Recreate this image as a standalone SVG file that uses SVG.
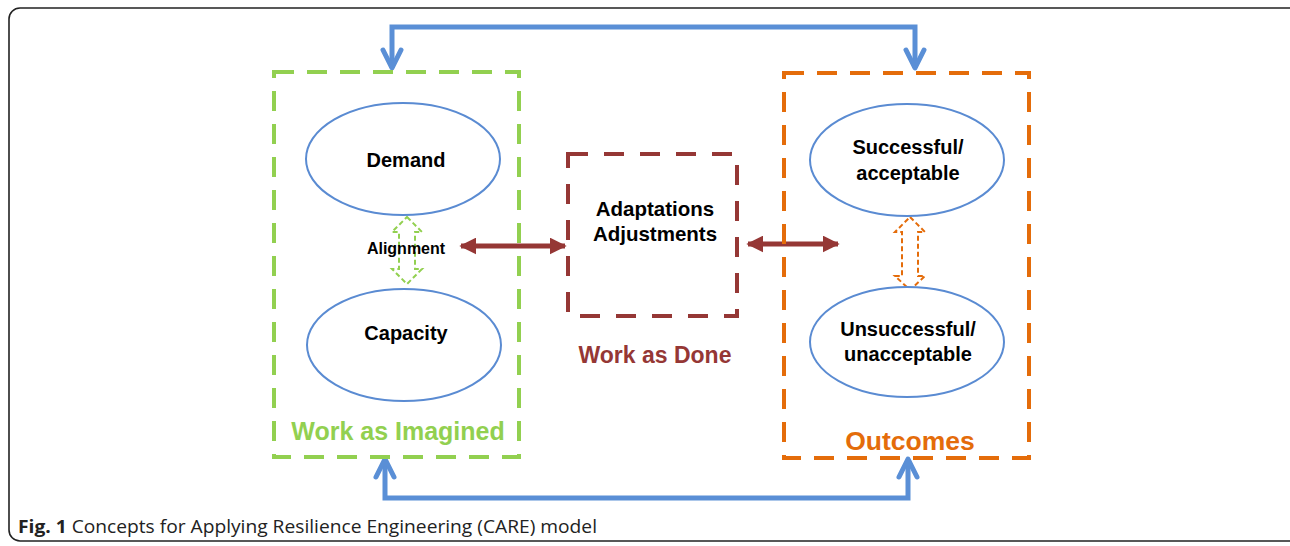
<svg xmlns="http://www.w3.org/2000/svg" width="1290" height="546" viewBox="0 0 1290 546">
<style>
.frame{fill:none;stroke:#222;stroke-width:1.6}
.ell{fill:#fff;stroke:#5a8bd2;stroke-width:2}
.lbl{font-family:"Liberation Sans",Arial,sans-serif;font-weight:bold;fill:#000;text-anchor:middle}
.blue{fill:none;stroke:#5a8fd6;stroke-width:5;stroke-linejoin:miter}
.bhead{fill:none;stroke:#5a8fd6;stroke-width:5;stroke-linecap:round;stroke-linejoin:round}
.red{stroke:#953735;stroke-width:5}
</style>
<defs>
<marker id="rh" viewBox="0 0 10 10" refX="9" refY="5" markerWidth="3.4" markerHeight="3.4" orient="auto-start-reverse" markerUnits="strokeWidth">
<path d="M0,0 L10,5 L0,10 Z" fill="#953735"/>
</marker>
</defs>
<rect class="frame" x="9" y="8" width="1300" height="533" rx="11"/>

<g id="connectors">
<polyline class="blue" points="392,68 392,27 915,27 915,68"/>
<polyline class="bhead" points="383,50 392,68 401,50"/>
<polyline class="bhead" points="906,50 915,68 924,50"/>
<polyline class="blue" points="385,460 385,498 908,498 908,460"/>
<polyline class="bhead" points="376,477 385,459 394,477"/>
<polyline class="bhead" points="899,477 908,459 917,477"/>
<line class="red" x1="461" y1="246" x2="565" y2="246" marker-start="url(#rh)" marker-end="url(#rh)"/>
<line class="red" x1="748" y1="244" x2="838" y2="244" marker-start="url(#rh)" marker-end="url(#rh)"/>
<path d="M407,217 L422,232 L415,232 L415,269 L422,269 L407,284 L392,269 L399,269 L399,232 L392,232 Z" fill="#fff" stroke="#92d050" stroke-width="2" stroke-dasharray="5,3"/>
<path d="M910,217 L925,232 L918,232 L918,276 L925,276 L910,290 L895,276 L902,276 L902,232 L895,232 Z" fill="#fff" stroke="#e46c0a" stroke-width="2" stroke-dasharray="5,3"/>
</g>

<g id="work-as-imagined">
<rect x="274" y="72" width="245" height="385" fill="none" stroke="#92d050" stroke-width="4" stroke-dasharray="20,13"/>
<text x="398" y="440" class="lbl" style="fill:#92d050;font-size:25px">Work as Imagined</text>
</g>
<g id="demand">
<ellipse class="ell" cx="403" cy="159" rx="97" ry="56"/>
<text x="406" y="167" class="lbl" style="font-size:20px">Demand</text>
</g>
<g id="capacity">
<ellipse class="ell" cx="404" cy="345" rx="97" ry="56"/>
<text x="406" y="340" class="lbl" style="font-size:20px">Capacity</text>
</g>
<g id="alignment">
<text x="406" y="254" class="lbl" style="font-size:16px">Alignment</text>
</g>

<g id="work-as-done">
<rect x="568" y="154" width="169" height="162" fill="none" stroke="#953735" stroke-width="4" stroke-dasharray="20,16"/>
<text x="655" y="216" class="lbl" style="font-size:20.5px">Adaptations</text>
<text x="655" y="241" class="lbl" style="font-size:20.5px">Adjustments</text>
<text x="655" y="363" class="lbl" style="fill:#953735;font-size:23px">Work as Done</text>
</g>

<g id="outcomes">
<rect x="784" y="73" width="245" height="385" fill="none" stroke="#e46c0a" stroke-width="4" stroke-dasharray="20,13"/>
<text x="910" y="450" class="lbl" style="fill:#e46c0a;font-size:26.5px">Outcomes</text>
</g>
<g id="successful">
<ellipse class="ell" cx="907" cy="160" rx="97" ry="56"/>
<text x="908" y="154" class="lbl" style="font-size:20px">Successful/</text>
<text x="908" y="180" class="lbl" style="font-size:20px">acceptable</text>
</g>
<g id="unsuccessful">
<ellipse class="ell" cx="907" cy="342" rx="97" ry="55"/>
<text x="908" y="336" class="lbl" style="font-size:20px">Unsuccessful/</text>
<text x="908" y="361" class="lbl" style="font-size:20px">unacceptable</text>
</g>

<text x="18" y="533" textLength="579" lengthAdjust="spacingAndGlyphs" style="font-family:'Open Sans','Liberation Sans',sans-serif;font-size:18px;fill:#222"><tspan font-weight="bold">Fig. 1</tspan> Concepts for Applying Resilience Engineering (CARE) model</text>
</svg>
